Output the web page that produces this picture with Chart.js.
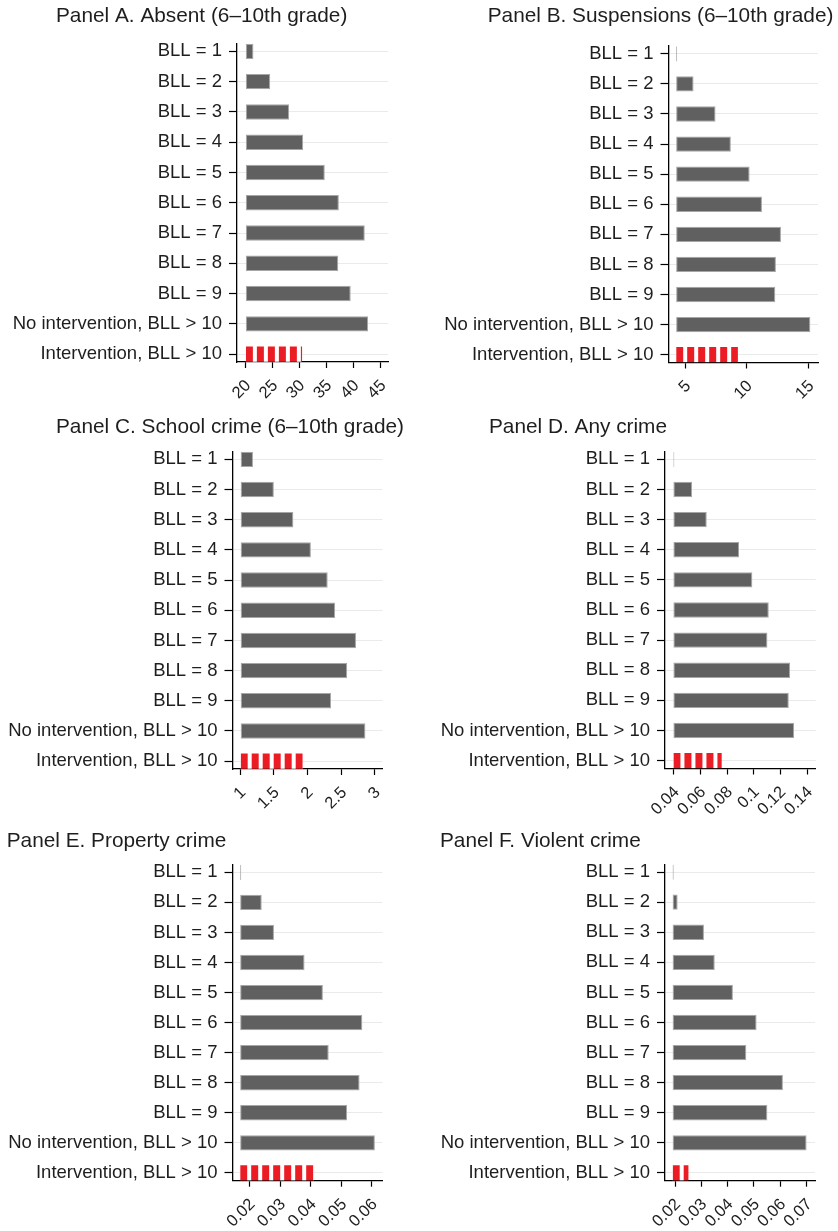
<!DOCTYPE html>
<html>
<head>
<meta charset="utf-8">
<script src="https://cdn.jsdelivr.net/npm/chart.js@4/dist/chart.umd.min.js"></script>
<style>
  html, body { margin: 0; padding: 0; background: #ffffff; }
  #wrap { position: relative; width: 838px; height: 1231px; overflow: hidden; }
  #wrap canvas { position: absolute; }
</style>
</head>
<body>
<div id="wrap">
  <canvas id="panelA"></canvas>
  <canvas id="panelB"></canvas>
  <canvas id="panelC"></canvas>
  <canvas id="panelD"></canvas>
  <canvas id="panelE"></canvas>
  <canvas id="panelF"></canvas>
</div>
<script>
// Rows shown on every panel, top to bottom
const categories = [
  'BLL = 1', 'BLL = 2', 'BLL = 3', 'BLL = 4', 'BLL = 5',
  'BLL = 6', 'BLL = 7', 'BLL = 8', 'BLL = 9',
  'No intervention, BLL > 10', 'Intervention, BLL > 10'
];

// Panel A. Absent (6–10th grade)
const absentValues = [21.5, 24.6, 28.1, 30.7, 34.7, 37.3, 42.1, 37.2, 39.5, 42.7, 30.5];
const absentBase = 20;
const absentTicks = [20, 25, 30, 35, 40, 45];
const absentAxis = [18.46, 46.4];

// Panel B. Suspensions (6–10th grade)
const suspensionValues = [4.35, 5.68, 7.46, 8.70, 10.22, 11.22, 12.76, 12.35, 12.30, 15.14, 9.27];
const suspensionBase = 4.27;
const suspensionTicks = [5, 10, 15];
const suspensionAxis = [3.65, 15.76];

// Panel C. School crime (6–10th grade)
const schoolCrimeValues = [1.19, 1.50, 1.79, 2.05, 2.30, 2.41, 2.72, 2.59, 2.35, 2.86, 1.93];
const schoolCrimeBase = 1;
const schoolCrimeTicks = [1, 1.5, 2, 2.5, 3];
const schoolCrimeAxis = [0.886, 3.114];

// Panel D. Any crime
const anyCrimeValues = [0.0405, 0.0538, 0.0648, 0.0890, 0.0990, 0.1113, 0.1103, 0.1273, 0.1263, 0.1303, 0.0760];
const anyCrimeBase = 0.0398;
const anyCrimeTicks = [0.04, 0.06, 0.08, 0.1, 0.12, 0.14];
const anyCrimeAxis = [0.0335, 0.1465];

// Panel E. Property crime
const propertyCrimeValues = [0.0173, 0.0240, 0.0280, 0.0380, 0.0440, 0.0569, 0.0459, 0.0560, 0.0519, 0.0610, 0.0410];
const propertyCrimeBase = 0.01695;
const propertyCrimeTicks = [0.02, 0.03, 0.04, 0.05, 0.06];
const propertyCrimeAxis = [0.01444, 0.0635];

// Panel F. Violent crime
const violentCrimeValues = [0.0195, 0.0210, 0.0310, 0.0351, 0.0420, 0.0510, 0.0471, 0.0610, 0.0551, 0.0700, 0.0251];
const violentCrimeBase = 0.0191;
const violentCrimeTicks = [0.02, 0.03, 0.04, 0.05, 0.06, 0.07];
const violentCrimeAxis = [0.0162, 0.0732];

// Styling
const FONT = '"Liberation Sans", Arial, Helvetica, sans-serif';
const TEXT = '#1e1e1e';
const BAR_GRAY = '#606060';
const BAR_EDGE = '#a6a6a6';
const RED = '#ec1c24';
const GRID = '#eaeaea';

// Page layout of each panel: canvas box, plot area, title anchor (page pixels)
const panels = [
  { id: 'panelA', title: 'Panel A. Absent (6\u201310th grade)',
    values: absentValues, base: absentBase, ticks: absentTicks, axis: absentAxis,
    box: { x: 0, y: 0, w: 419, h: 405 }, plot: { l: 237, r: 388, t: 43.5, b: 362 },
    titleAt: { x: 56, y: 21.7 } },
  { id: 'panelB', title: 'Panel B. Suspensions (6\u201310th grade)',
    values: suspensionValues, base: suspensionBase, ticks: suspensionTicks, axis: suspensionAxis,
    box: { x: 419, y: 0, w: 419, h: 405 }, plot: { l: 668.5, r: 818, t: 46, b: 362.5 },
    titleAt: { x: 487.7, y: 22 } },
  { id: 'panelC', title: 'Panel C. School crime (6\u201310th grade)',
    values: schoolCrimeValues, base: schoolCrimeBase, ticks: schoolCrimeTicks, axis: schoolCrimeAxis,
    box: { x: 0, y: 405, w: 419, h: 410 }, plot: { l: 232.5, r: 382.5, t: 451.5, b: 769 },
    titleAt: { x: 56, y: 433.3 } },
  { id: 'panelD', title: 'Panel D. Any crime',
    values: anyCrimeValues, base: anyCrimeBase, ticks: anyCrimeTicks, axis: anyCrimeAxis,
    box: { x: 419, y: 405, w: 419, h: 410 }, plot: { l: 665, r: 815.7, t: 451.5, b: 768.5 },
    titleAt: { x: 489, y: 433.3 } },
  { id: 'panelE', title: 'Panel E. Property crime',
    values: propertyCrimeValues, base: propertyCrimeBase, ticks: propertyCrimeTicks, axis: propertyCrimeAxis,
    box: { x: 0, y: 815, w: 419, h: 416 }, plot: { l: 232.5, r: 382.5, t: 864.5, b: 1180.7 },
    titleAt: { x: 6.7, y: 846.7 } },
  { id: 'panelF', title: 'Panel F. Violent crime',
    values: violentCrimeValues, base: violentCrimeBase, ticks: violentCrimeTicks, axis: violentCrimeAxis,
    box: { x: 419, y: 815, w: 419, h: 416 }, plot: { l: 665, r: 815, t: 864.3, b: 1180.7 },
    titleAt: { x: 440, y: 846.7 } }
];

// Panel heading drawn at a fixed anchor above the plot
const panelTitlePlugin = {
  id: 'panelTitle',
  afterDraw(chart, args, opts) {
    const ctx = chart.ctx;
    ctx.save();
    ctx.font = '20.8px ' + FONT;
    ctx.fillStyle = TEXT;
    ctx.textAlign = 'left';
    ctx.textBaseline = 'alphabetic';
    ctx.fillText(opts.text, opts.x, opts.y);
    ctx.restore();
  }
};

// Start the stripe pattern at the base of each striped bar
const stripeAnchorPlugin = {
  id: 'stripeAnchor',
  beforeDatasetsDraw(chart) {
    chart.getSortedVisibleDatasetMetas().forEach(meta => {
      meta.data.forEach(el => {
        const fill = el.options && el.options.backgroundColor;
        if (fill instanceof CanvasPattern) {
          fill.setTransform(new DOMMatrix().translate(el.base, 0));
        }
      });
    });
  }
};

// Red fill broken by thin white gaps
function makeStripes(ctx) {
  const tile = document.createElement('canvas');
  tile.width = 11; tile.height = 4;
  const g = tile.getContext('2d');
  g.fillStyle = '#ffffff'; g.fillRect(0, 0, 11, 4);
  g.fillStyle = RED; g.fillRect(0, 0, 7, 4);
  return ctx.createPattern(tile, 'repeat');
}

function buildPanel(p) {
  const canvas = document.getElementById(p.id);
  canvas.width = p.box.w;
  canvas.height = p.box.h;
  canvas.style.left = p.box.x + 'px';
  canvas.style.top = p.box.y + 'px';
  const ctx = canvas.getContext('2d');
  const stripes = makeStripes(ctx);
  const treated = categories.map(c => c.startsWith('Intervention'));

  return new Chart(ctx, {
    type: 'bar',
    data: {
      datasets: [{
        data: p.values.map((v, i) => ({ x: v, y: i })),
        base: p.base,
        backgroundColor: treated.map(t => (t ? stripes : BAR_GRAY)),
        borderColor: treated.map(t => (t ? 'rgba(0,0,0,0)' : BAR_EDGE)),
        borderWidth: treated.map(t => (t ? 0 : 1)),
        borderSkipped: false,
        barPercentage: 0.51,
        categoryPercentage: 1
      }]
    },
    options: {
      indexAxis: 'y',
      responsive: false,
      animation: false,
      devicePixelRatio: 1,
      layout: {
        padding: {
          left: 0,
          top: p.plot.t - p.box.y,
          right: p.box.x + p.box.w - p.plot.r,
          bottom: 0
        }
      },
      plugins: {
        legend: { display: false },
        tooltip: { enabled: false },
        panelTitle: { text: p.title, x: p.titleAt.x - p.box.x, y: p.titleAt.y - p.box.y }
      },
      scales: {
        y: {
          type: 'linear',
          reverse: true,
          offset: false,
          min: -0.26,
          max: categories.length - 1 + 0.26,
          afterBuildTicks: s => { s.ticks = categories.map((c, i) => ({ value: i })); },
          afterFit: s => { s.width = p.plot.l - p.box.x; },
          ticks: {
            autoSkip: false,
            callback: v => categories[v],
            font: { family: FONT, size: 18.5 },
            color: TEXT,
            padding: 7
          },
          grid: {
            offset: false,
            color: GRID,
            lineWidth: 1,
            tickLength: 8,
            tickColor: '#000000',
            tickWidth: 1.2,
            drawOnChartArea: true
          },
          border: { color: '#000000', width: 1.3 }
        },
        x: {
          type: 'linear',
          min: p.axis[0],
          max: p.axis[1],
          afterBuildTicks: s => { s.ticks = p.ticks.map(v => ({ value: v })); },
          afterFit: s => { s.height = p.box.y + p.box.h - p.plot.b; },
          ticks: {
            autoSkip: false,
            callback: v => String(v),
            font: { family: FONT, size: 16.5 },
            color: TEXT,
            minRotation: 45,
            maxRotation: 45,
            padding: 8,
            labelOffset: 3
          },
          grid: {
            drawOnChartArea: false,
            tickLength: 6,
            tickColor: '#000000',
            tickWidth: 1.2
          },
          border: { color: '#000000', width: 1.3 }
        }
      }
    },
    plugins: [panelTitlePlugin, stripeAnchorPlugin]
  });
}

panels.forEach(buildPanel);
</script>
</body>
</html>
